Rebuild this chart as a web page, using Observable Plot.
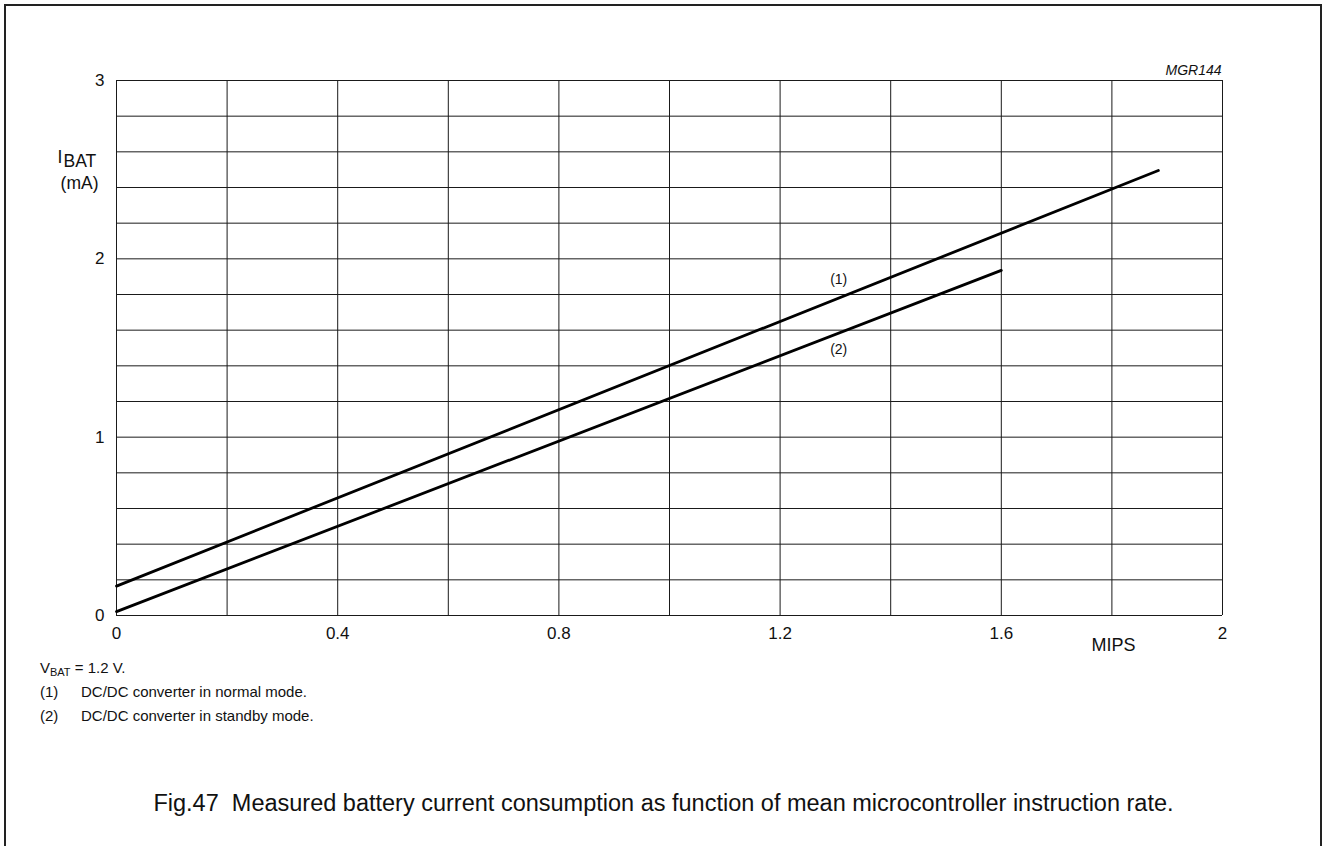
<!DOCTYPE html>
<html>
<head>
<meta charset="utf-8">
<script src="https://cdn.jsdelivr.net/npm/d3@7"></script>
<script src="https://cdn.jsdelivr.net/npm/@observablehq/plot@0.6"></script>
<style>
  html, body { margin: 0; padding: 0; background: #fff; }
  body { width: 1327px; height: 846px; position: relative; overflow: hidden;
         font-family: "Liberation Sans", Arial, sans-serif; color: #111; }
  #frame { position: absolute; left: 4px; top: 4px; width: 1318px; height: 860px;
           border: 2px solid #222; box-sizing: border-box; }
  #chart { position: absolute; left: 0; top: 0; }
  .note { position: absolute; left: 40px; font-size: 15px; line-height: 20px; white-space: pre; }
  .note sub { font-size: 11px; vertical-align: -3px; line-height: 0; }
  .tag { display: inline-block; width: 41px; }
  #caption { position: absolute; left: 0; width: 1327px; text-align: center; font-size: 23.5px; line-height: 28px; }
</style>
</head>
<body>
<div id="frame"></div>
<div id="chart"></div>
<div class="note" style="top:658px">V<sub>BAT</sub> = 1.2 V.</div>
<div class="note" style="top:682px"><span class="tag">(1)</span>DC/DC converter in normal mode.</div>
<div class="note" style="top:706px"><span class="tag">(2)</span>DC/DC converter in standby mode.</div>
<div id="caption" style="top:789px">Fig.47&nbsp;&nbsp;Measured battery current consumption as function of mean microcontroller instruction rate.</div>
<script>
const mipsTicks = [0, 0.4, 0.8, 1.2, 1.6, 2];
const currentTicks = [0, 1, 2, 3];
const mipsGrid = [0, 0.2, 0.4, 0.6, 0.8, 1.0, 1.2, 1.4, 1.6, 1.8, 2.0];
const currentGrid = [0, 0.2, 0.4, 0.6, 0.8, 1.0, 1.2, 1.4, 1.6, 1.8, 2.0, 2.2, 2.4, 2.6, 2.8, 3.0];

// (1) DC/DC converter in normal mode
const normalMips = [0, 1.884];
const normalCurrent = [0.165, 2.495];
// (2) DC/DC converter in standby mode
const standbyMips = [0, 1.6];
const standbyCurrent = [0.022, 1.935];

const seriesLabels = ["(1)", "(2)"];
const seriesLabelMips = [1.306, 1.306];
const seriesLabelCurrent = [1.885, 1.49];

const chart = Plot.plot({
  width: 1327,
  height: 660,
  marginLeft: 116,
  marginRight: 105,
  marginTop: 80,
  marginBottom: 45,
  style: { fontFamily: "'Liberation Sans', Arial, sans-serif", background: "transparent", color: "#111" },
  x: { domain: [0, 2] },
  y: { domain: [0, 3] },
  marks: [
    Plot.ruleX(mipsGrid, { x: d => d, stroke: "#1a1a1a", strokeWidth: 1 }),
    Plot.ruleY(currentGrid, { y: d => d, stroke: "#1a1a1a", strokeWidth: 1 }),
    Plot.line(normalMips, { x: d => d, y: (d, i) => normalCurrent[i], stroke: "#000", strokeWidth: 2.8 }),
    Plot.line(standbyMips, { x: d => d, y: (d, i) => standbyCurrent[i], stroke: "#000", strokeWidth: 2.8 }),
    Plot.text(seriesLabels, { x: (d, i) => seriesLabelMips[i], y: (d, i) => seriesLabelCurrent[i], text: d => d, fontSize: 14, fill: "#111" }),
    Plot.axisX(mipsTicks, { tickSize: 0, tickPadding: 11, fontSize: 17, label: null, tickFormat: d => String(d) }),
    Plot.axisY(currentTicks, { tickSize: 0, tickPadding: 12, fontSize: 17, label: null, tickFormat: d => String(d) }),
    Plot.text(["MIPS"], { x: 1.803, y: 0, dy: 30, text: d => d, fontSize: 18, fill: "#111" }),
    Plot.text(["MGR144"], { frameAnchor: "top-right", dx: -1, dy: -15, text: d => d, textAnchor: "end", fontStyle: "italic", fontSize: 14, fill: "#111" }),
    Plot.text(["I"], { frameAnchor: "top-left", dx: -59, dy: 70, text: d => d, textAnchor: "start", fontSize: 17.5, fill: "#111" }),
    Plot.text(["BAT"], { frameAnchor: "top-left", dx: -53, dy: 74, text: d => d, textAnchor: "start", fontSize: 17.5, fill: "#111" }),
    Plot.text(["(mA)"], { frameAnchor: "top-left", dx: -18, dy: 96, text: d => d, textAnchor: "end", fontSize: 17.5, fill: "#111" })
  ]
});
document.getElementById("chart").appendChild(chart);
</script>
</body>
</html>
